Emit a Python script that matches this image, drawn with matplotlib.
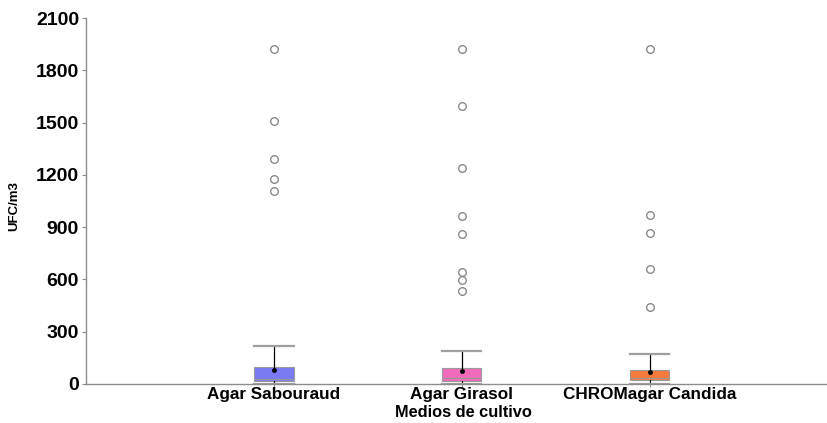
import matplotlib
matplotlib.use("Agg")
import matplotlib.pyplot as plt

plt.rcParams['font.family'] = ['Liberation Sans', 'DejaVu Sans']

# Culture media and their summary statistics (UFC/m3)
media = ["Agar Sabouraud", "Agar Girasol", "CHROMagar Candida"]
q1 = [17, 17, 21]
median = [28, 34, 32]
q3 = [100, 94, 82]
whisker_low = [0, 0, 0]
whisker_high = [218, 189, 172]
means = [78, 76, 69]
outliers = [
    [1920, 1510, 1290, 1175, 1110],
    [1920, 1595, 1240, 965, 860, 645, 595, 535],
    [1920, 970, 865, 660, 440],
]
box_colors = ["#7a7af2", "#f06cba", "#f67a3c"]
y_ticks = [0, 300, 600, 900, 1200, 1500, 1800, 2100]

fig = plt.figure(figsize=(8.28, 4.23), dpi=100)
ax = fig.add_axes([0.1039, 0.0922, 0.8961, 0.8652])

stats = []
for i, name in enumerate(media):
    stats.append(dict(label=name, q1=q1[i], med=median[i], q3=q3[i],
                      whislo=whisker_low[i], whishi=whisker_high[i],
                      mean=means[i], fliers=outliers[i]))

positions = [1, 2, 3]
bp = ax.bxp(stats, positions=positions, widths=0.21, patch_artist=True,
            showmeans=True, showfliers=True,
            boxprops=dict(linewidth=0.8, edgecolor="#9a9a9a"),
            medianprops=dict(color="#9a9a9a", linewidth=0.8),
            whiskerprops=dict(color="black", linewidth=0.9),
            capprops=dict(color="#a0a0a0", linewidth=1.6),
            meanprops=dict(marker="o", markerfacecolor="black",
                           markeredgecolor="black", markersize=2.5),
            flierprops=dict(marker="o", markerfacecolor="white",
                            markeredgecolor="#8a8a8a", markersize=5.5,
                            markeredgewidth=1.0))
for patch, c in zip(bp["boxes"], box_colors):
    patch.set_facecolor(c)
# Caps span the full box width
for cap in bp["caps"]:
    x0, x1 = cap.get_xdata()
    cx = (x0 + x1) / 2
    cap.set_xdata([cx - 0.105, cx + 0.105])

ax.set_xlim(0, 3.95)
ax.set_ylim(0, 2100)
ax.set_yticks(y_ticks)
ax.set_yticklabels([str(v) for v in y_ticks])
ax.set_xticks(positions)
ax.set_xticklabels(media)

for s in ["top", "right"]:
    ax.spines[s].set_visible(False)
for s in ["left", "bottom"]:
    ax.spines[s].set_color("#8c8c8c")
    ax.spines[s].set_linewidth(1.0)

ax.tick_params(axis="y", length=3, color="#8c8c8c", pad=2,
               labelsize=14)
ax.tick_params(axis="x", length=2, color="#8c8c8c", pad=0,
               labelsize=12.3)
for lbl in ax.get_xticklabels() + ax.get_yticklabels():
    lbl.set_fontweight("bold")

ax.set_xlabel("Medios de cultivo", fontsize=11.8, fontweight="bold",
              va="top")
ax.xaxis.set_label_coords(0.508, -0.057)
ax.set_ylabel("UFC/m3", fontsize=9.5, fontweight="bold", va="center")
ax.yaxis.set_label_coords(-0.097, 0.486)

fig.savefig("out.png", dpi=100, facecolor="white")
